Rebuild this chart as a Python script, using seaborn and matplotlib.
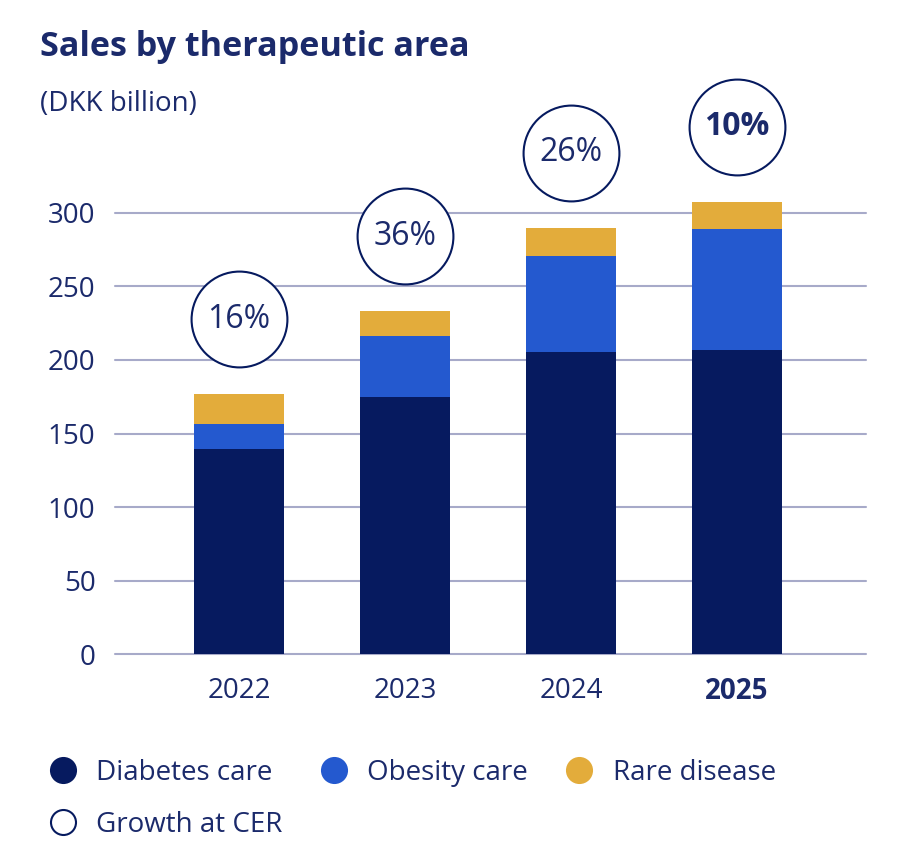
import matplotlib
matplotlib.use("Agg")
import matplotlib.pyplot as plt
import seaborn as sns
import pandas as pd
import numpy as np
from matplotlib.lines import Line2D

years = ["2022", "2023", "2024", "2025"]
diabetes = [139.5, 174.5, 205.3, 206.5]
obesity = [16.9, 41.5, 65.0, 82.4]
rare = [20.3, 17.0, 19.5, 18.6]
growth = ["16%", "36%", "26%", "10%"]

NAVY = "#061a5f"
BLUE = "#2459cf"
GOLD = "#e3ac3b"
TEXT = "#1b2a6b"
GRID = "#a7aac9"

sns.set_theme(style="white")
plt.rcParams["font.family"] = ["Open Sans", "DejaVu Sans"]

df = pd.DataFrame({"year": years, "diabetes": diabetes, "obesity": obesity, "rare": rare})
df["lvl2"] = df["diabetes"] + df["obesity"]
df["total"] = df["lvl2"] + df["rare"]

YMAX = 330
PX = (654.3 - 212.7) / 300.0
top_px = 654.3 - YMAX * PX
fig = plt.figure(figsize=(9.02, 8.58), dpi=100)
ax = fig.add_axes([115/902, 1-654.3/858, (866-115)/902, (654.3-top_px)/858])

for col, c in [("total", GOLD), ("lvl2", BLUE), ("diabetes", NAVY)]:
    sns.barplot(data=df, x="year", y=col, color=c, width=0.54, ax=ax, zorder=3,
                saturation=1, linewidth=0, edgecolor="none")

ax.set_xlim(-0.747, 3.777)
ax.set_ylim(0, YMAX)
ticks = [0, 50, 100, 150, 200, 250, 300]
ax.set_yticks(ticks)
for yv in ticks:
    ax.axhline(yv, color=GRID, lw=1.5, zorder=1, clip_on=False)
for s in ax.spines.values():
    s.set_visible(False)
ax.set_xlabel("")
ax.set_ylabel("")
ax.tick_params(axis="y", length=0, pad=14, labelsize=20, labelcolor=TEXT)
ax.tick_params(axis="x", length=0, pad=16, labelsize=20, labelcolor=TEXT)
for lbl in ax.get_yticklabels():
    lbl.set_color(TEXT)
xl = ax.get_xticklabels()
for lbl in xl:
    lbl.set_color(TEXT)
xl[-1].set_fontweight("bold")

# growth circles
offset = 51
for i, (t, g) in enumerate(zip(df["total"], growth)):
    ax.plot(i, t + offset, marker="o", markersize=69, markerfacecolor="white",
            markeredgecolor=NAVY, markeredgewidth=1.5, clip_on=False, zorder=5)
    ax.text(i, t + offset, g, ha="center", va="center", fontsize=23, color=TEXT,
            fontweight="bold" if i == len(growth) - 1 else "normal", zorder=6, clip_on=False)

fig.text(40/902, 1-56/858, "Sales by therapeutic area", fontsize=24.6, fontweight="bold",
         color=TEXT, ha="left", va="baseline")
fig.text(40/902, 1-111/858, "(DKK billion)", fontsize=20, color=TEXT, ha="left", va="baseline")

def dot(fc, ec):
    return Line2D([], [], marker="o", linestyle="none", markersize=18,
                  markerfacecolor=fc, markeredgecolor=ec, markeredgewidth=1.5)

handles = [dot(NAVY, NAVY), dot("white", NAVY), dot(BLUE, BLUE), dot(GOLD, GOLD)]
labels = ["Diabetes care", "Growth at CER", "Obesity care", "Rare disease"]
leg = fig.legend(handles, labels, ncol=3, loc="upper left", bbox_to_anchor=(49/902, 1-759/858),
                 frameon=False, fontsize=20, handletextpad=0.7, columnspacing=1.35,
                 labelspacing=0.85, handlelength=1.0, borderaxespad=0, borderpad=0)
for t in leg.get_texts():
    t.set_color(TEXT)

fig.savefig("out.png", dpi=100, facecolor="white")
